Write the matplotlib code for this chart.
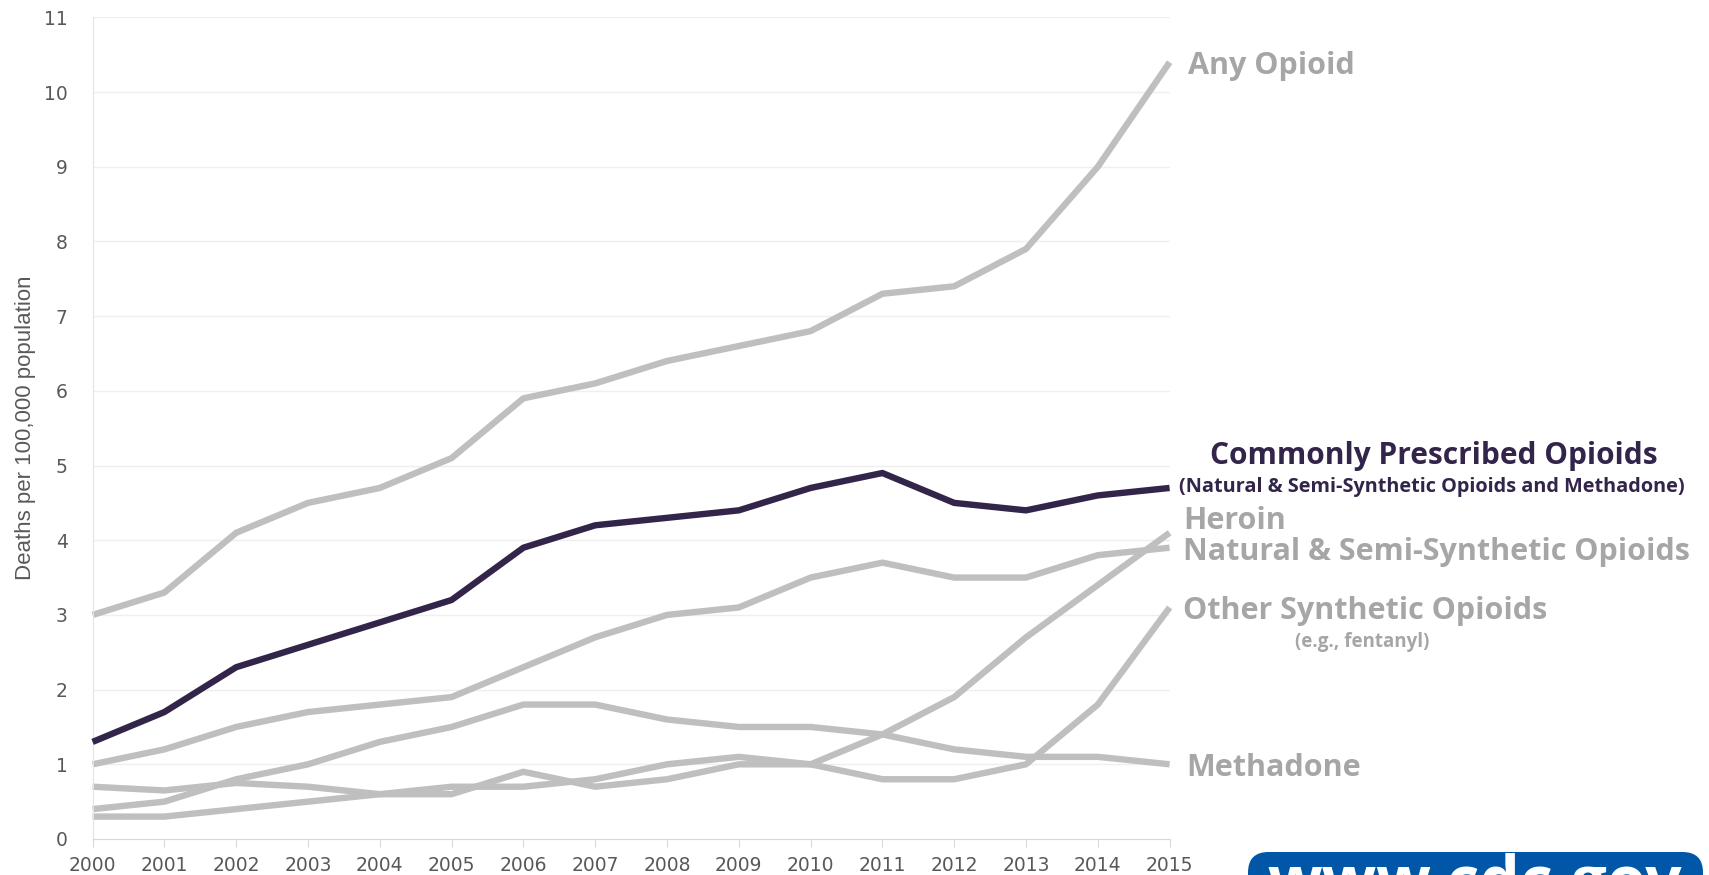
import matplotlib
matplotlib.use("Agg")
import matplotlib.pyplot as plt
from matplotlib.patches import FancyBboxPatch

years = list(range(2000, 2016))
any_opioid = [3.0, 3.3, 4.1, 4.5, 4.7, 5.1, 5.9, 6.1, 6.4, 6.6, 6.8, 7.3, 7.4, 7.9, 9.0, 10.4]
commonly_prescribed = [1.3, 1.7, 2.3, 2.6, 2.9, 3.2, 3.9, 4.2, 4.3, 4.4, 4.7, 4.9, 4.5, 4.4, 4.6, 4.7]
natural_semi = [1.0, 1.2, 1.5, 1.7, 1.8, 1.9, 2.3, 2.7, 3.0, 3.1, 3.5, 3.7, 3.5, 3.5, 3.8, 3.9]
heroin = [0.7, 0.65, 0.75, 0.7, 0.6, 0.7, 0.7, 0.8, 1.0, 1.1, 1.0, 1.4, 1.9, 2.7, 3.4, 4.1]
other_synthetic = [0.3, 0.3, 0.4, 0.5, 0.6, 0.6, 0.9, 0.7, 0.8, 1.0, 1.0, 0.8, 0.8, 1.0, 1.8, 3.1]
methadone = [0.4, 0.5, 0.8, 1.0, 1.3, 1.5, 1.8, 1.8, 1.6, 1.5, 1.5, 1.4, 1.2, 1.1, 1.1, 1.0]
y_ticks = list(range(0, 12))

GRAY = "#bfbfbf"
DARK = "#33244a"
LABEL_GRAY = "#a6a6a6"

W, H = 1709, 875
fig = plt.figure(figsize=(W / 100, H / 100), dpi=100)
ax = fig.add_axes([92.6 / W, 1 - 839 / H, (1169.6 - 92.6) / W, (839 - 17.4) / H])

lw = 4.6
for series in [any_opioid, natural_semi, heroin, other_synthetic, methadone]:
    ax.plot(years, series, color=GRAY, lw=lw, solid_capstyle="butt", solid_joinstyle="round", clip_on=False)
ax.plot(years, commonly_prescribed, color=DARK, lw=lw, solid_capstyle="butt", solid_joinstyle="round", clip_on=False, zorder=5)

ax.set_xlim(2000, 2015)
ax.set_ylim(0, 11)
ax.set_xticks(years)
ax.set_yticks(y_ticks)
ax.yaxis.grid(True, color="#efefef", lw=1)
ax.set_axisbelow(True)
for s in ["top", "right"]:
    ax.spines[s].set_visible(False)
ax.spines["left"].set_color("#e3e3e3")
ax.spines["bottom"].set_color("#d9d9d9")
ax.tick_params(axis="y", length=0, pad=18, labelsize=13.5, labelcolor="#595959")
ax.tick_params(axis="x", length=6, color="#d9d9d9", pad=6, labelsize=13.5, labelcolor="#595959")
ax.set_ylabel("Deaths per 100,000 population", family=["Liberation Sans", "DejaVu Sans"],
              fontsize=16, color="#595959", labelpad=6)


def ftext(x, y, s, **kw):
    fig.text(x / W, 1 - y / H, s, **kw)


FONT = ["Open Sans", "DejaVu Sans"]
lab = dict(family=FONT, fontweight="bold", va="center", ha="left")
ftext(1188, 66, "Any Opioid", color=LABEL_GRAY, fontsize=22, **lab)
ftext(1210, 456, "Commonly Prescribed Opioids", color=DARK, fontsize=21.5, **lab)
ftext(1179, 487, "(Natural & Semi-Synthetic Opioids and Methadone)", color=DARK, fontsize=14.3, **lab)
ftext(1183, 521, "Heroin", color=LABEL_GRAY, fontsize=22, **lab)
ftext(1183, 552, "Natural & Semi-Synthetic Opioids", color=LABEL_GRAY, fontsize=22, **lab)
ftext(1183, 611, "Other Synthetic Opioids", color=LABEL_GRAY, fontsize=22, **lab)
ftext(1362, 642, "(e.g., fentanyl)", color=LABEL_GRAY, fontsize=13.5,
      family=FONT, fontweight="bold", va="center", ha="center")
ftext(1186, 768, "Methadone", color=LABEL_GRAY, fontsize=22, **lab)

# cdc.gov badge, cut off by bottom edge
box = FancyBboxPatch((1248 / W, -0.05), (1703 - 1248) / W, (0.05 + (875 - 852) / H),
                     boxstyle="round,pad=0,rounding_size=0.012", transform=fig.transFigure,
                     facecolor="#0057a8", edgecolor="none", mutation_aspect=W / H)
fig.patches.append(box)
ftext(1475, 902, "www.cdc.gov", color="white", fontsize=46, family=FONT,
      fontweight="bold", ha="center", va="baseline")

fig.savefig("out.png", dpi=100)
